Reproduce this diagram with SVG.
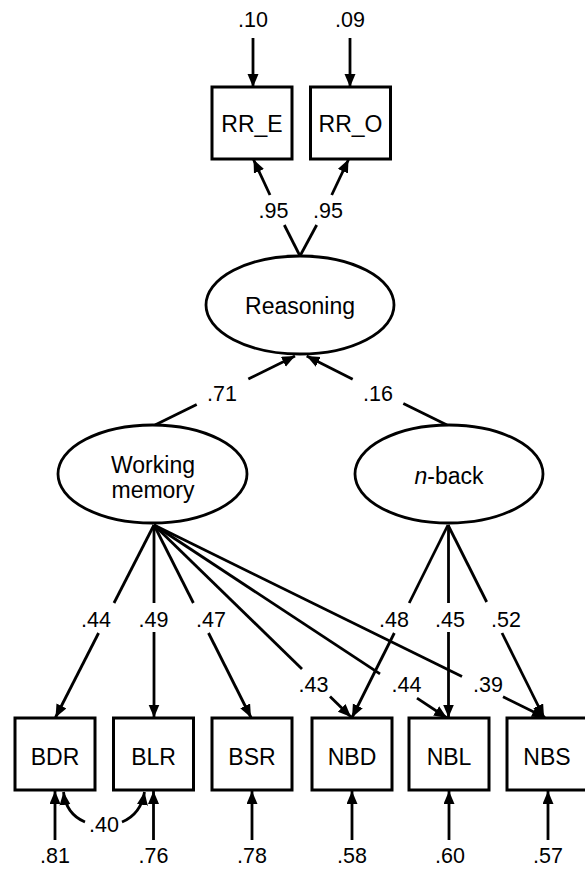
<svg xmlns="http://www.w3.org/2000/svg" width="585" height="869" viewBox="0 0 585 869">
  <style>
    .box { fill: #fff; stroke: #000; stroke-width: 3; }
    .lat { fill: #fff; stroke: #000; stroke-width: 2.8; }
    .ln { fill: none; stroke: #000; stroke-width: 2.8; }
    .arr { fill: none; stroke: #000; stroke-width: 2.8; marker-end: url(#head); }
    .nt { font-family: "Liberation Sans", Arial, sans-serif; font-size: 23px; text-anchor: middle; fill: #000; }
    .lb { font-family: "Liberation Sans", Arial, sans-serif; font-size: 21.5px; text-anchor: middle; fill: #000; }
  </style>
  <defs>
    <marker id="head" markerUnits="userSpaceOnUse" markerWidth="14" markerHeight="12" refX="13" refY="5.5" orient="auto">
      <path d="M0,0 L13,5.5 L0,11 z" fill="#000"/>
    </marker>
  </defs>
  <rect width="585" height="869" fill="#fff"/>

  <!-- paths, loadings, residuals -->
  <g id="connectors">
    <!-- residuals on reasoning indicators -->
    <path class="arr" d="M253 38 L253 87"/>
    <path class="arr" d="M350 38 L350 87"/>
    <!-- reasoning loadings -->
    <path class="ln" d="M300 256 L284.3 225"/>
    <path class="arr" d="M270 195 L253.5 159.5"/>
    <path class="ln" d="M300 256 L316.7 225"/>
    <path class="arr" d="M331.7 195 L348.5 159.5"/>
    <!-- structural paths -->
    <path class="ln" d="M155 425 L196.7 404.4"/>
    <path class="arr" d="M248.3 379 L295 356"/>
    <path class="ln" d="M447 425 L403.3 403.5"/>
    <path class="arr" d="M352.7 379.3 L306.7 356"/>
    <!-- working memory loadings -->
    <path class="ln" d="M154 525 L114 603"/>
    <path class="arr" d="M98.6 633 L55.5 717.5"/>
    <path class="ln" d="M154 525 L154 603"/>
    <path class="arr" d="M154 632 L154 717.5"/>
    <path class="ln" d="M154 525 L193.4 603"/>
    <path class="arr" d="M208.5 633 L251 717.5"/>
    <path class="ln" d="M154 525 L302 669"/>
    <path class="arr" d="M330 696.5 L351 717"/>
    <path class="ln" d="M154 525 L380 673.9"/>
    <path class="arr" d="M417 698.2 L447 718"/>
    <path class="ln" d="M154 525 L462 676.6"/>
    <path class="arr" d="M503 696.8 L545 717.5"/>
    <!-- n-back loadings -->
    <path class="ln" d="M448 525 L409.2 603"/>
    <path class="arr" d="M394.3 633 L352 717.5"/>
    <path class="ln" d="M448.5 525 L448.5 603"/>
    <path class="arr" d="M448.5 632 L448.5 717.5"/>
    <path class="ln" d="M448 525 L486.7 602"/>
    <path class="arr" d="M502 633 L544 717.5"/>
    <!-- residuals on lower indicators -->
    <path class="arr" d="M55 840 L55 791"/>
    <path class="arr" d="M153.5 840 L153.5 791"/>
    <path class="arr" d="M252 840 L252 791"/>
    <path class="arr" d="M352 840 L352 791"/>
    <path class="arr" d="M449 840 L449 791"/>
    <path class="arr" d="M548 840 L548 791"/>
    <!-- residual covariance -->
    <path class="arr" d="M85 822 Q66 814 63.5 792"/>
    <path class="arr" d="M122 822 Q141 814 144.5 792"/>
  </g>

  <g id="rr_e"><rect class="box" x="212" y="87" width="80" height="72"/><text class="nt" x="252" y="132">RR_E</text></g>
  <g id="rr_o"><rect class="box" x="310.5" y="87" width="80" height="72"/><text class="nt" x="350.5" y="132">RR_O</text></g>
  <g id="reasoning"><ellipse class="lat" cx="300" cy="305" rx="94" ry="49"/><text class="nt" x="300" y="314">Reasoning</text></g>
  <g id="working_memory"><ellipse class="lat" cx="152.5" cy="474" rx="94.5" ry="49"/><text class="nt" x="153" y="473">Working</text><text class="nt" x="153" y="498">memory</text></g>
  <g id="n_back"><ellipse class="lat" cx="449" cy="474" rx="94" ry="49"/><text class="nt" x="449" y="484"><tspan font-style="italic">n</tspan>-back</text></g>
  <g id="bdr"><rect class="box" x="15" y="718" width="80" height="72"/><text class="nt" x="55" y="765">BDR</text></g>
  <g id="blr"><rect class="box" x="113.5" y="718" width="80" height="72"/><text class="nt" x="153.5" y="765">BLR</text></g>
  <g id="bsr"><rect class="box" x="212" y="718" width="80" height="72"/><text class="nt" x="252" y="765">BSR</text></g>
  <g id="nbd"><rect class="box" x="312" y="718" width="80" height="72"/><text class="nt" x="352" y="765">NBD</text></g>
  <g id="nbl"><rect class="box" x="409" y="718" width="80" height="72"/><text class="nt" x="449" y="765">NBL</text></g>
  <g id="nbs"><rect class="box" x="507" y="718" width="80" height="72"/><text class="nt" x="547" y="765">NBS</text></g>

  <g id="labels">
    <text class="lb" x="253" y="27">.10</text>
    <text class="lb" x="350" y="27">.09</text>
    <text class="lb" x="273.5" y="218">.95</text>
    <text class="lb" x="328" y="218">.95</text>
    <text class="lb" x="222" y="401">.71</text>
    <text class="lb" x="378" y="401">.16</text>
    <text class="lb" x="96" y="627">.44</text>
    <text class="lb" x="153.5" y="627">.49</text>
    <text class="lb" x="211" y="627">.47</text>
    <text class="lb" x="394" y="627">.48</text>
    <text class="lb" x="450" y="627">.45</text>
    <text class="lb" x="506" y="627">.52</text>
    <text class="lb" x="313.5" y="692">.43</text>
    <text class="lb" x="406.5" y="692">.44</text>
    <text class="lb" x="488" y="692">.39</text>
    <text class="lb" x="104" y="832">.40</text>
    <text class="lb" x="55" y="863">.81</text>
    <text class="lb" x="153.5" y="863">.76</text>
    <text class="lb" x="252" y="863">.78</text>
    <text class="lb" x="352" y="863">.58</text>
    <text class="lb" x="450" y="863">.60</text>
    <text class="lb" x="548" y="863">.57</text>
  </g>
</svg>
